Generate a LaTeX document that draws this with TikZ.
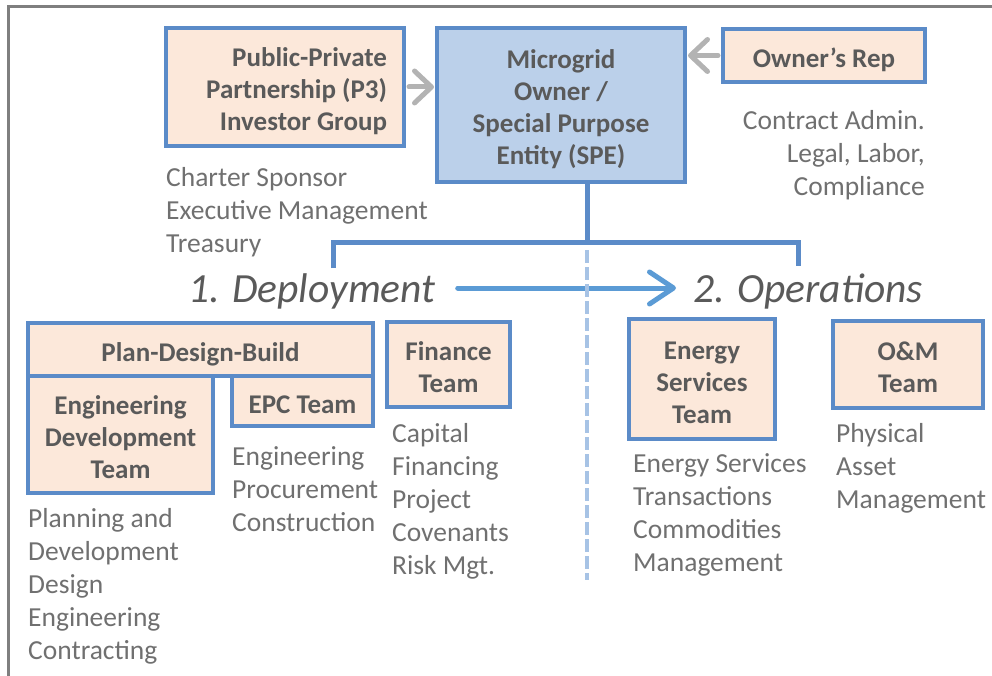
\documentclass[tikz,border=0pt]{standalone}
\usepackage{fontspec}
\setmainfont{Carlito}
\usetikzlibrary{arrows.meta}
\definecolor{boxline}{HTML}{5B8BC8}
\definecolor{peach}{HTML}{FCE8DA}
\definecolor{spefill}{HTML}{BBD0EA}
\definecolor{boxtext}{HTML}{5A5A5A}
\definecolor{desctext}{HTML}{707070}
\definecolor{flowblue}{HTML}{5B9BD5}
\definecolor{dashblue}{HTML}{A7C3E5}
\definecolor{framegray}{HTML}{7F7F7F}
\definecolor{arrowgray}{HTML}{B3B3B3}
\newcommand\tstrut{\rule{0pt}{28pt}}
\newcommand\bstrut{\rule[-4pt]{0pt}{4pt}}
\begin{document}
\begin{tikzpicture}[x=1pt,y=-1pt,
  box/.style={draw=boxline, line width=4pt, fill=peach, inner sep=0pt,
    font=\fontsize{27}{32}\selectfont\bfseries, text=boxtext, align=center},
  desc/.style={inner sep=0pt, font=\fontsize{27.5}{33}\selectfont, text=desctext,
    align=flush left, anchor=north west},
  phase/.style={inner sep=0pt, font=\fontsize{41.5}{48}\selectfont\itshape,
    text=boxtext, anchor=base west},
  link/.style={draw=boxline, line width=5pt},
  grayarrow/.style={draw=arrowgray, line width=5pt, line cap=round,
    -{Straight Barb[length=17pt,width=32pt,line width=5pt,round]}},
]
\useasboundingbox (0,0) rectangle (992,676);
\draw[framegray, line width=3pt] (8,676) -- (8,7) -- (992,7);

% top row
\node[box, minimum width=238pt, minimum height=118pt, text width=204pt, align=flush right]
  (p3) at (285,87) {\tstrut Public-Private\\Partnership (P3)\\Investor Group\bstrut};
\node[box, fill=spefill, minimum width=248pt, minimum height=154pt]
  (spe) at (561,105) {\tstrut Microgrid\\Owner /\\Special Purpose\\Entity (SPE)\bstrut};
\node[box, minimum width=202pt, minimum height=53pt]
  (rep) at (824,55.5) {\tstrut Owner’s Rep\bstrut};

\draw[grayarrow] ([xshift=3pt]p3.east) -- ([xshift=-1pt]spe.west |- p3.east);
\draw[grayarrow] ([xshift=-3pt]rep.west) -- ([xshift=1pt]spe.east |- rep.west);

\node[desc] (p3d) at (166,167) {Charter Sponsor\\Executive Management\\Treasury};
\node[desc, anchor=north east, align=flush right] (repd) at (925,110)
  {Contract Admin.\\Legal, Labor,\\Compliance};

% tree connectors
\coordinate (top) at (587,242);
\coordinate (jl) at (333,242);
\coordinate (jr) at (798,242);
\coordinate (dl) at (333,268);
\coordinate (dr) at (798,266);
\coordinate (dashtop) at (587,250);
\coordinate (dashbot) at (587,580);
\draw[link] (spe.south -| top) -- (top);
\draw[link] (dl) -- (jl) -- (jr) -- (dr);

% phases
\node[phase] (dep) at (188,302) {1. Deployment};
\node[phase] (ops) at (693,302) {2. Operations};
\draw[flowblue, line width=5pt, line cap=round,
  -{Straight Barb[length=24pt,width=32pt,line width=5pt,round]}]
  ([xshift=22pt,yshift=14pt]dep.base east) -- ([xshift=-17pt,yshift=14pt]ops.base west);
\draw[dashblue, line width=4pt, dash pattern=on 13pt off 4pt] (dashtop) -- (dashbot);

% deployment boxes
\node[box, minimum width=345pt, minimum height=53pt] (pdb) at (200.5,349.5)
  {\tstrut Plan-Design-Build\bstrut};
\node[box, minimum width=185pt, minimum height=117pt] (edt) at (120.5,434.5)
  {\tstrut Engineering\\Development\\Team\bstrut};
\node[box, minimum width=141pt, minimum height=50pt] (epc) at (302.5,401)
  {\tstrut EPC Team\bstrut};
\node[box, minimum width=123pt, minimum height=85pt] (fin) at (448.5,364.5)
  {\tstrut Finance\\Team\bstrut};

% operations boxes
\node[box, minimum width=146pt, minimum height=120pt] (est) at (702,379)
  {\tstrut Energy\\Services\\Team\bstrut};
\node[box, minimum width=150pt, minimum height=87pt] (om) at (908,364.5)
  {\tstrut O\&M\\Team\bstrut};

% descriptions
\node[desc] (edtd) at (28,508) {Planning and\\Development\\Design\\Engineering\\Contracting};
\node[desc] (epcd) at (232,446) {Engineering\\Procurement\\Construction};
\node[desc] (find) at (392,423) {Capital\\Financing\\Project\\Covenants\\Risk Mgt.};
\node[desc] (estd) at (633,453) {Energy Services\\Transactions\\Commodities\\Management};
\node[desc] (omd) at (836,423) {Physical\\Asset\\Management};
\end{tikzpicture}
\end{document}
